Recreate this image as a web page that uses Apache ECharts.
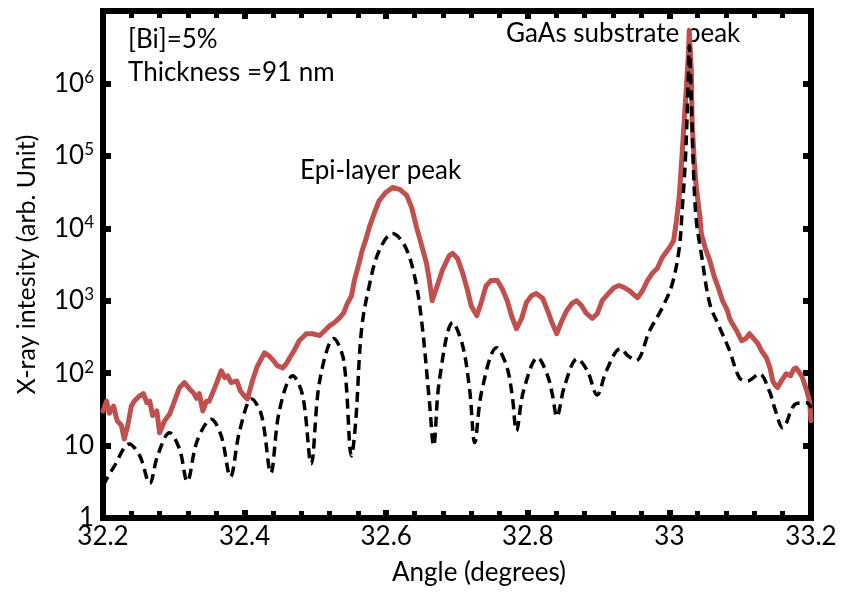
<!DOCTYPE html>
<html>
<head>
<meta charset="utf-8">
<script src="https://cdn.jsdelivr.net/npm/echarts@6/dist/echarts.min.js"></script>
<style>
html,body{margin:0;padding:0;background:#fff;}
#c{width:841px;height:593px;}
</style>
</head>
<body>
<div id="c"></div>
<script>
// ---- data ----
var xTicks = [32.2, 32.4, 32.6, 32.8, 33, 33.2];
var yTicks = [1, 10, 100, 1000, 10000, 100000, 1000000];

// Simulated curve (black dashed)
var simAngle = [32.200,32.216,32.237,32.252,32.266,32.277,32.294,32.308,32.319,32.333,32.353,32.367,32.380,32.393,32.410,32.424,32.437,32.449,32.468,32.482,32.494,32.506,32.526,32.540,32.551,32.557,32.565,32.576,32.590,32.609,32.626,32.640,32.650,32.661,32.667,32.675,32.694,32.708,32.718,32.725,32.735,32.756,32.770,32.778,32.784,32.794,32.814,32.828,32.835,32.841,32.852,32.870,32.884,32.898,32.911,32.931,32.942,32.953,32.972,32.990,33.004,33.014,33.018,33.023,33.027,33.028,33.031,33.034,33.038,33.045,33.057,33.071,33.085,33.099,33.110,33.127,33.141,33.150,33.160,33.179,33.194,33.200];
var simValue = [2.8,5.2,10.5,7.2,3.0,7.2,15,9,3.2,11.6,23,13.6,3.7,16,44,26,4.2,30,92,49,5.6,78,300,150,7.2,22,385,1600,4900,8500,5800,2200,530,41,10,78,500,240,57,11,57,225,126,49,16,57,164,92,49,25,67,158,108,50,108,218,172,150,385,800,1700,5400,17800,107000,1500000,3300000,580000,63000,12800,4500,910,425,204,86,78,98,57,30,17.5,38,39,33];

// Measured curve (red)
var measAngle = [32.200,32.205,32.209,32.215,32.220,32.226,32.230,32.235,32.240,32.244,32.251,32.257,32.262,32.266,32.270,32.276,32.280,32.287,32.294,32.301,32.308,32.315,32.322,32.328,32.332,32.336,32.341,32.346,32.350,32.356,32.360,32.367,32.372,32.376,32.381,32.389,32.394,32.400,32.404,32.411,32.417,32.422,32.428,32.435,32.441,32.446,32.454,32.459,32.463,32.470,32.477,32.483,32.487,32.496,32.506,32.513,32.520,32.527,32.534,32.540,32.545,32.551,32.555,32.562,32.566,32.572,32.576,32.583,32.590,32.599,32.609,32.619,32.629,32.636,32.643,32.650,32.657,32.661,32.665,32.672,32.679,32.689,32.694,32.701,32.708,32.715,32.720,32.728,32.735,32.741,32.748,32.757,32.764,32.771,32.777,32.784,32.791,32.798,32.805,32.812,32.821,32.828,32.834,32.841,32.847,32.855,32.862,32.869,32.876,32.882,32.891,32.898,32.905,32.915,32.922,32.929,32.936,32.944,32.951,32.955,32.962,32.969,32.976,32.983,32.989,32.994,33.000,33.006,33.010,33.014,33.018,33.021,33.024,33.027,33.028,33.030,33.031,33.032,33.035,33.038,33.043,33.045,33.051,33.057,33.063,33.069,33.075,33.082,33.085,33.089,33.095,33.102,33.108,33.113,33.119,33.125,33.130,33.137,33.142,33.146,33.150,33.153,33.158,33.165,33.171,33.176,33.179,33.184,33.188,33.194,33.198,33.200];
var measValue = [30,41,28,35,22,19,12.3,19,35,41,48,52,39,41,26,30,15,22,27,41,63,74,61,53,45,52,30,41,41,57,71,108,87,92,74,78,57,48,44,78,118,148,190,172,148,127,118,135,158,205,280,318,350,350,330,385,450,500,580,680,910,1170,1900,3400,4900,7400,10200,16000,24000,31000,36600,34500,28500,19300,10200,5800,3250,1900,1000,1600,2600,4200,4500,3800,2400,1380,850,620,1000,1600,1900,1900,1450,1000,620,410,560,940,1170,1260,1080,730,500,350,500,730,910,1000,850,680,570,660,1000,1290,1520,1620,1520,1370,1180,1100,1370,1900,2400,2800,3800,4500,5400,6800,12800,28000,108000,310000,890000,2800000,5400000,5400000,1500000,310000,86000,36600,14800,8500,5200,3600,2200,1520,1000,730,570,480,385,280,300,350,300,255,204,163,120,78,67,63,78,98,92,115,118,101,86,57,41,22];

var FONT = 'Lato';
var FS = 26;
function pairs(a, b) { return a.map(function (v, i) { return [v, b[i]]; }); }

var chart = echarts.init(document.getElementById('c'), null, {renderer: 'canvas'});
var axisLine = {show: true, onZero: false, lineStyle: {color: '#000', width: 6, cap: 'square'}};
var majorTick = {show: true, inside: true, length: 8, lineStyle: {color: '#000', width: 6}};
var minorTick = {show: true, splitNumber: 5, length: 7, lineStyle: {color: '#000', width: 5}};

var option = {
  backgroundColor: '#fff',
  animation: false,
  grid: {left: 103, right: 30, top: 11, bottom: 75, containLabel: false},
  xAxis: [{
    type: 'value', min: xTicks[0], max: xTicks[xTicks.length - 1], interval: 0.2,
    position: 'bottom',
    name: 'Angle (degrees)', nameLocation: 'middle', nameGap: 42,
    nameTextStyle: {fontFamily: FONT, fontSize: FS, color: '#000', padding: [0, 0, 0, 44]},
    axisLine: axisLine, axisTick: majorTick, minorTick: minorTick,
    splitLine: {show: false},
    axisLabel: {fontFamily: FONT, fontSize: FS, color: '#000', margin: 6,
      formatter: function (v) { return String(+(+v).toFixed(1)); }}
  }, {
    type: 'value', min: xTicks[0], max: xTicks[xTicks.length - 1], interval: 0.2,
    position: 'top',
    axisLine: axisLine, axisTick: majorTick, minorTick: minorTick,
    splitLine: {show: false}, axisLabel: {show: false}
  }],
  yAxis: [{
    type: 'log', logBase: 10, min: yTicks[0], max: 10000000,
    position: 'left',
    name: 'X-ray intesity (arb. Unit)', nameLocation: 'middle', nameGap: 64,
    nameTextStyle: {fontFamily: FONT, fontSize: FS - 1, color: '#000'},
    axisLine: axisLine, axisTick: majorTick,
    splitLine: {show: false},
    axisLabel: {fontFamily: FONT, fontSize: FS, color: '#000', margin: 9,
      formatter: function (v) {
        var e = Math.round(Math.log10(v));
        if (yTicks.indexOf(Math.pow(10, e)) < 0) return '';
        if (e === 0) return '1';
        if (e === 1) return '10';
        return '10{s|' + e + '}';
      },
      rich: {s: {fontFamily: FONT, fontSize: 17, color: '#000', verticalAlign: 'top', padding: [0, 0, 12, 0]}}
    }
  }, {
    type: 'log', logBase: 10, min: yTicks[0], max: 10000000,
    position: 'right',
    axisLine: axisLine, axisTick: majorTick,
    splitLine: {show: false}, axisLabel: {show: false}
  }],
  series: [{
    type: 'line', name: 'measured', xAxisIndex: 0, yAxisIndex: 0,
    data: pairs(measAngle, measValue), showSymbol: false, symbol: 'none',
    lineStyle: {color: '#C0504D', width: 5, join: 'round', cap: 'round'},
    clip: true, z: 2
  }, {
    type: 'line', name: 'simulated', xAxisIndex: 0, yAxisIndex: 0,
    data: pairs(simAngle, simValue), showSymbol: false, symbol: 'none', smooth: 0.35,
    lineStyle: {color: '#000', width: 3.5, type: [10, 6]},
    clip: true, z: 3
  }],
  graphic: [
    {type: 'text', left: 128, top: 27, style: {text: '[Bi]=5%', font: FS + 'px ' + FONT, fill: '#000'}},
    {type: 'text', left: 128, top: 60, style: {text: 'Thickness =91 nm', font: FS + 'px ' + FONT, fill: '#000'}},
    {type: 'text', left: 300, top: 158, style: {text: 'Epi-layer peak', font: FS + 'px ' + FONT, fill: '#000'}},
    {type: 'text', left: 506, top: 21, style: {text: 'GaAs substrate peak', font: FS + 'px ' + FONT, fill: '#000'}}
  ]
};
chart.setOption(option);
</script>
</body>
</html>
